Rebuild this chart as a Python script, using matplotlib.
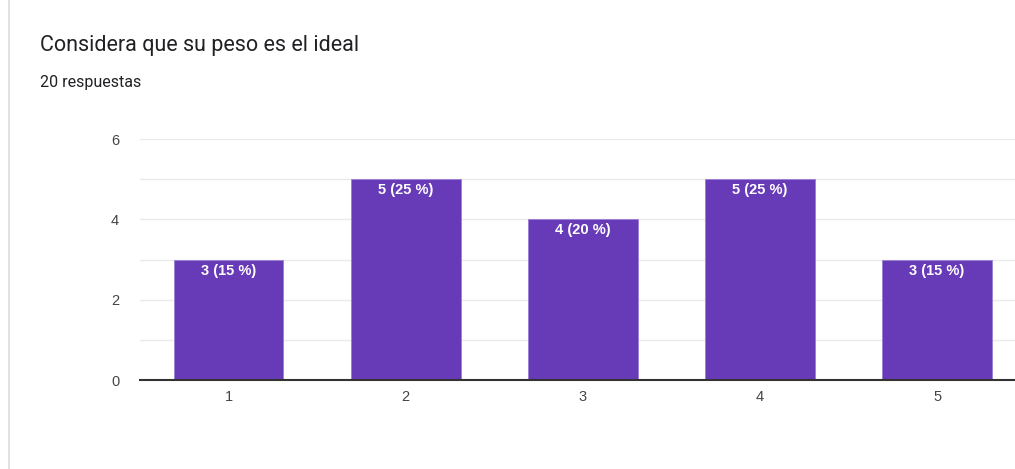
import matplotlib
matplotlib.use("Agg")
import matplotlib.pyplot as plt
from matplotlib.lines import Line2D

categories = ["1", "2", "3", "4", "5"]
counts = [3, 5, 4, 5, 3]
percents = [15, 25, 20, 25, 15]
title = "Considera que su peso es el ideal"
subtitle = "20 respuestas"
yticks = [0, 2, 4, 6]

plt.rcParams['font.family'] = ['Roboto', 'DejaVu Sans']

W, H = 1015, 469
fig = plt.figure(figsize=(W / 100, H / 100), dpi=100)
fig.patch.set_facecolor('white')

ax = fig.add_axes([140 / W, 1 - 380 / H, (W - 140) / W, (380 - 139) / H])
x = list(range(len(categories)))
bars = ax.bar(x, counts, width=0.62, color='#673ab7', edgecolor='#9a7fd0',
              linewidth=0.6, zorder=3)
for xi, c, p in zip(x, counts, percents):
    ax.text(xi, c - 0.1, f"{c} ({p} %)", ha='center', va='top', color='white',
            fontsize=10.5, fontweight='bold',
            family=['Liberation Sans', 'DejaVu Sans'], zorder=4)

ax.set_xlim(-0.5, 4.44)
ax.set_ylim(0, 6)
ax.set_xticks(x)
ax.set_xticklabels(categories)
ax.set_yticks(yticks)
ax.set_yticks([1, 3, 5], minor=True)
ax.grid(axis='y', which='both', color='#ebebeb', linewidth=1, zorder=0)
for s in ['top', 'right', 'left']:
    ax.spines[s].set_visible(False)
ax.spines['bottom'].set_color('#333333')
ax.spines['bottom'].set_linewidth(1.5)
ax.spines['bottom'].set_zorder(5)
ax.tick_params(axis='both', which='both', length=0, labelsize=10.5, labelcolor='#444444')
ax.tick_params(axis='x', pad=7)
ax.tick_params(axis='y', pad=15)
for lbl in ax.get_xticklabels() + ax.get_yticklabels():
    lbl.set_family(['Liberation Sans', 'DejaVu Sans'])

fig.text(40 / W, 1 - 45 / H, title, fontsize=15.5, color='#202124', va='center', ha='left')
fig.text(40 / W, 1 - 82 / H, subtitle, fontsize=11.5, color='#202124', va='center', ha='left')

fig.add_artist(Line2D([8.5 / W, 8.5 / W], [0, 1], color='#dadce0', linewidth=1.2,
                      transform=fig.transFigure))

fig.savefig("out.png", dpi=100, facecolor='white')
